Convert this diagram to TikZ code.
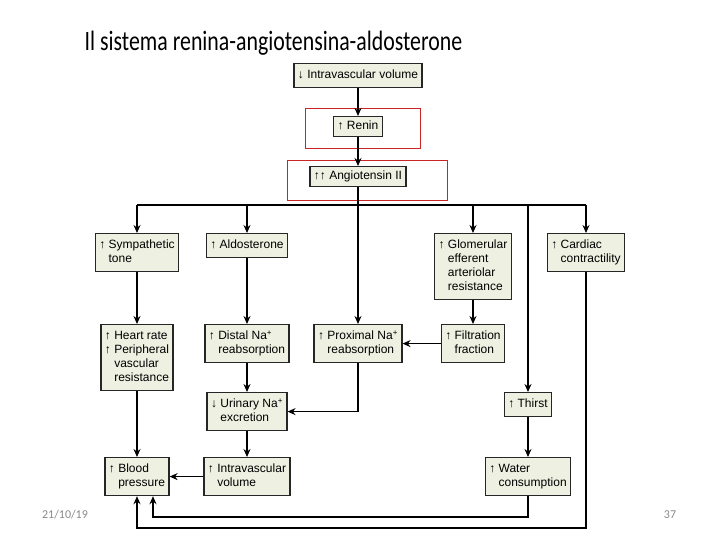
\documentclass[tikz,border=0pt]{standalone}
\usepackage{fontspec}
\setmainfont{Liberation Sans}
\newfontfamily\slidefont{Carlito}
\usepackage{graphicx}
\usetikzlibrary{arrows.meta,positioning,calc}
\definecolor{boxfill}{RGB}{238,241,226}
\definecolor{hilite}{RGB}{204,36,36}
\definecolor{slidegray}{RGB}{137,137,137}
\tikzset{
  box/.style={draw=black!85,line width=1.2pt,fill=boxfill,inner xsep=4pt,inner ysep=5pt,anchor=north,font=\fontsize{12}{14}\selectfont},
  link/.style={line width=1.3pt,-{Stealth[length=8pt,width=7pt]}},
  wire/.style={line width=1.3pt},
  redframe/.style={draw=hilite,line width=0.8pt}
}

\begin{document}
\begin{tikzpicture}[x=1pt,y=-1pt]
\useasboundingbox (0,0) rectangle (720,540);

\node[anchor=base] (title) at (273.5,51) {\slidefont\fontsize{28}{30}\selectfont\scalebox{0.78}[1]{Il sistema renina-angiotensina-aldosterone}};
\node[text=slidegray,font=\slidefont\fontsize{12}{14}\selectfont] (date) at (65,515) {21/10/19};
\node[text=slidegray,font=\slidefont\fontsize{12}{14}\selectfont] (page) at (670,515) {37};

% highlighted steps
\draw[redframe] (305,108) rectangle (420,148);
\draw[redframe] (287,160) rectangle (447,200);

\node[box] (ivtop) at (358,63) {\begin{tabular}{@{}l@{\ }l@{}}↓&Intravascular volume\end{tabular}};
\node[box,inner ysep=3pt] (renin) at (358,116) {\begin{tabular}{@{}l@{\ }l@{}}↑&Renin\end{tabular}};
\node[box,inner ysep=3pt] (ang) at (358,166) {\begin{tabular}{@{}l@{\ }l@{}}↑↑&Angiotensin II\end{tabular}};

\node[box] (symp) at (137,233) {\begin{tabular}{@{}l@{\ }l@{}}↑&Sympathetic\\&tone\end{tabular}};
\node[box] (aldo) at (247,233) {\begin{tabular}{@{}l@{\ }l@{}}↑&Aldosterone\end{tabular}};
\node[box] (glom) at (473,233) {\begin{tabular}{@{}l@{\ }l@{}}↑&Glomerular\\&efferent\\&arteriolar\\&resistance\end{tabular}};
\node[box] (card) at (586,233) {\begin{tabular}{@{}l@{\ }l@{}}↑&Cardiac\\&contractility\end{tabular}};

\node[box] (heart) at (137,324) {\begin{tabular}{@{}l@{\ }l@{}}↑&Heart rate\\↑&Peripheral\\&vascular\\&resistance\end{tabular}};
\node[box] (distal) at (247,324) {\begin{tabular}{@{}l@{\ }l@{}}↑&Distal Na\textsuperscript{+}\\&reabsorption\end{tabular}};
\node[box] (prox) at (358,324) {\begin{tabular}{@{}l@{\ }l@{}}↑&Proximal Na\textsuperscript{+}\\&reabsorption\end{tabular}};
\node[box] (filt) at (473,324) {\begin{tabular}{@{}l@{\ }l@{}}↑&Filtration\\&fraction\end{tabular}};

\node[box] (urin) at (247,392) {\begin{tabular}{@{}l@{\ }l@{}}↓&Urinary Na\textsuperscript{+}\\&excretion\end{tabular}};
\node[box] (thirst) at (528,392) {\begin{tabular}{@{}l@{\ }l@{}}↑&Thirst\end{tabular}};

\node[box] (blood) at (137,457) {\begin{tabular}{@{}l@{\ }l@{}}↑&Blood\\&pressure\end{tabular}};
\node[box] (ivbot) at (247,457) {\begin{tabular}{@{}l@{\ }l@{}}↑&Intravascular\\&volume\end{tabular}};
\node[box] (water) at (528,457) {\begin{tabular}{@{}l@{\ }l@{}}↑&Water\\&consumption\end{tabular}};

\coordinate (busL) at (137,205);
\coordinate (busR) at (586,205);
\coordinate (wloop) at (153,517);
\coordinate (cloop) at (137,528);

\draw[link] (ivtop) -- (renin);
\draw[link] (renin) -- (ang);
\draw[wire] (busL) -- (busR);
\draw[link] (ang) -- (prox);
\draw[link] (busL) -- (symp);
\draw[link] (aldo |- busL) -- (aldo);
\draw[link] (glom |- busL) -- (glom);
\draw[link] (thirst |- busL) -- (thirst);
\draw[link] (busR) -- (card);

\draw[link] (symp) -- (heart);
\draw[link] (aldo) -- (distal);
\draw[link] (glom) -- (filt);
\draw[link] (filt) -- (prox);
\draw[link] (prox) |- (urin);
\draw[link] (distal) -- (urin);
\draw[link] (urin) -- (ivbot);
\draw[link] (ivbot) -- (blood);
\draw[link] (heart) -- (blood);
\draw[link] (thirst) -- (water);
\draw[link] (water) |- (wloop) -- (wloop |- blood.south);
\draw[link] (card) |- (cloop) -- (blood);
\end{tikzpicture}
\end{document}
